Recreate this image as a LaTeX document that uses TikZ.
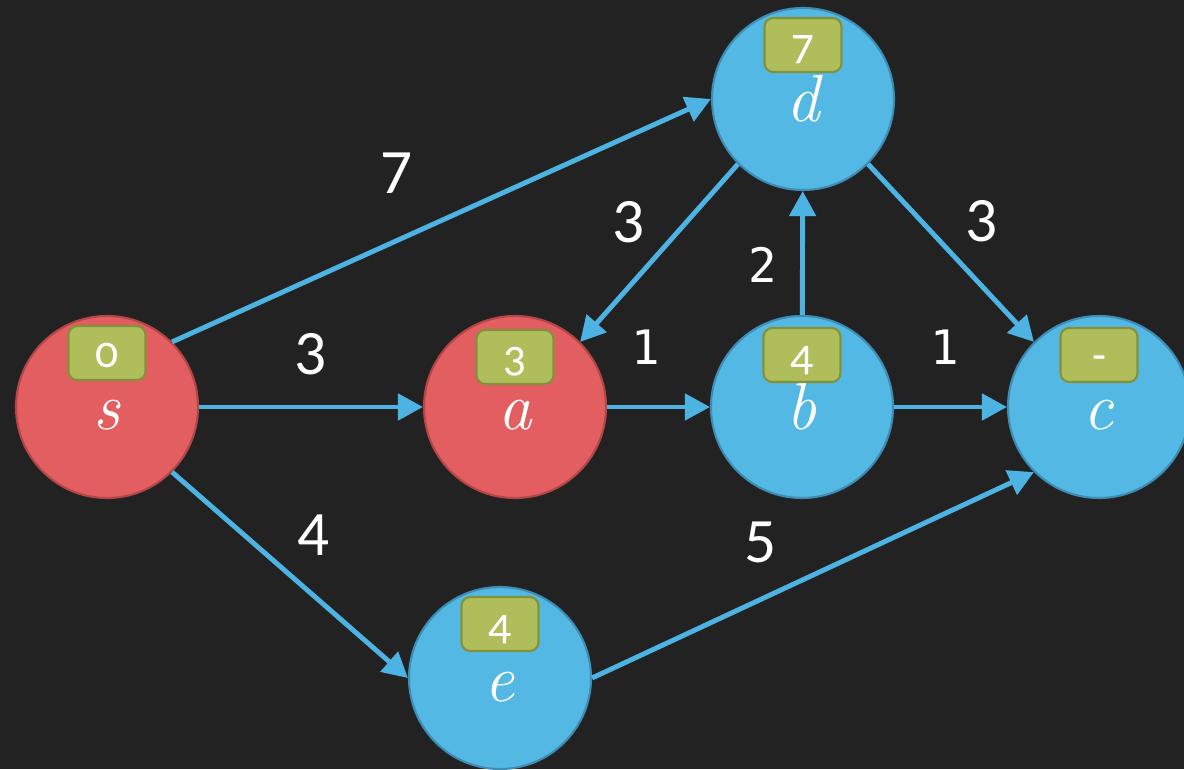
\documentclass[tikz,border=0pt]{standalone}
\usepackage{fontspec}
\usetikzlibrary{arrows.meta}
\newfontfamily\numfont[Numbers=OldStyle]{Carlito}
\newfontfamily\wfont{Carlito}
\newfontfamily\mfont{DejaVu Sans Mono}
\definecolor{board}{HTML}{222222}
\definecolor{redfill}{HTML}{E35E60}
\definecolor{redline}{HTML}{B54648}
\definecolor{bluefill}{HTML}{53B9E4}
\definecolor{blueline}{HTML}{3E8DB5}
\definecolor{boxfill}{HTML}{AFBE5A}
\definecolor{boxline}{HTML}{83923A}
\definecolor{linkblue}{HTML}{4DB3E2}

\begin{document}
\begin{tikzpicture}[
		vertex/.style={circle, minimum size=3.64cm, inner sep=0pt, line width=1.2pt, text=white,
			text height=0.92cm, text depth=0cm, font=\fontsize{38}{40}\selectfont\itshape},
		redvertex/.style={vertex, fill=redfill, draw=redline},
		bluevertex/.style={vertex, fill=bluefill, draw=blueline},
		dist/.style={rounded corners=5pt, minimum width=1.54cm, minimum height=1.08cm, inner sep=0pt,
			fill=boxfill, draw=boxline, line width=1.2pt, text=white,
			text height=0.60cm, text depth=0cm, font=\numfont\fontsize{26}{28}\selectfont},
		weight/.style={text=white, font=\wfont\fontsize{36}{38}\selectfont},
		mweight/.style={text=white, font=\mfont\fontsize{27}{29}\selectfont},
		link/.style={linkblue, line width=2.8pt, -{Triangle[length=0.5cm, width=0.52cm]}}
	]
		\clip (0,0) rectangle (23.68,15.38);
		\fill[board] (0,0) rectangle (23.68,15.38);

		\node[redvertex] (s) at (2.14, 7.24) {s};
		\node[redvertex] (a) at (10.30, 7.24) {a};
		\node[bluevertex] (b) at (16.04, 7.24) {b};
		\node[bluevertex] (c) at (21.98, 7.24) {c};
		\node[bluevertex] (d) at (16.06,13.40) {d};
		\node[bluevertex] (e) at (10.00, 1.82) {e};

		\node[dist] (ds) at ([yshift=1.08cm]s.center) {0};
		\node[dist] (da) at ([yshift=1.00cm]a.center) {3};
		\node[dist] (db) at ([yshift=1.04cm]b.center) {4};
		\node[dist] (dc) at ([yshift=1.04cm]c.center) {-};
		\node[dist] (dd) at ([yshift=1.08cm]d.center) {7};
		\node[dist] (de) at ([yshift=1.08cm]e.center) {4};

		\draw[link] (s.north east) -- (d.west);
		\draw[link] (s) -- (a);
		\draw[link] (s.south east) -- (e.west);
		\draw[link] (a) -- (b);
		\draw[link] (b) -- (c);
		\draw[link] (b) -- (d);
		\draw[link] (d.south west) -- (a.north east);
		\draw[link] (d.south east) -- (c.north west);
		\draw[link] (e.east) -- (c.south west);

		\node[weight] (wsd) at ( 7.94,11.92) {7};
		\node[weight] (wsa) at ( 6.22, 8.30) {3};
		\node[weight] (wse) at ( 6.28, 4.68) {4};
		\node[weight] (wda) at (12.58,10.94) {3};
		\node[weight] (wdc) at (19.64,10.96) {3};
		\node[weight] (wec) at (15.22, 4.54) {5};
		\node[mweight] (wab) at (12.92, 8.44) {1};
		\node[mweight] (wbc) at (18.90, 8.44) {1};
		\node[mweight] (wbd) at (15.26,10.08) {2};
	\end{tikzpicture}
\end{document}
